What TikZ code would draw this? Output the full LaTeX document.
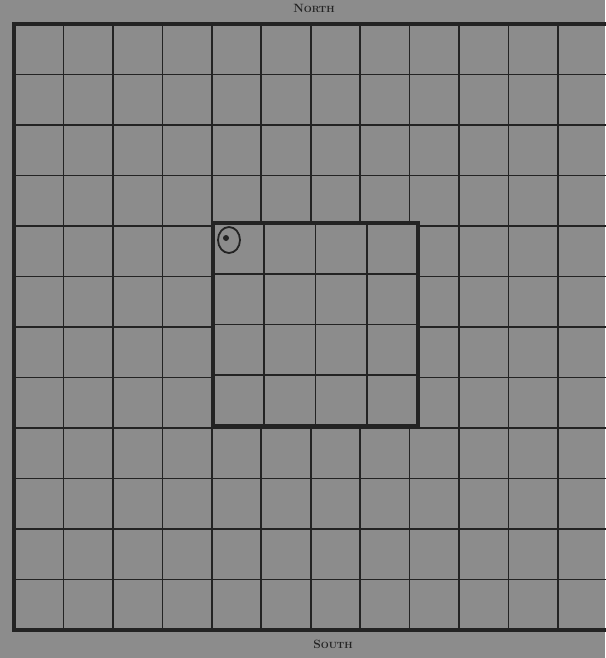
\documentclass[tikz,border=0pt]{standalone}
\definecolor{paper}{RGB}{140,140,140}
\definecolor{ink}{RGB}{35,35,35}
\tikzset{
  gridline/.style={draw=ink, line width=1.7pt},
  frameline/.style={draw=ink, line width=3.2pt},
  label/.style={font=\fontsize{12}{14}\selectfont\bfseries, text=ink, inner sep=0pt},
}
\newcommand{\smallcaps}[1]{{\fontsize{9}{11}\selectfont #1}}
\begin{document}
\begin{tikzpicture}[x=1pt,y=-1pt]
\fill[paper] (0,0) rectangle (605,658);
\useasboundingbox (0,0) rectangle (605,658);
% outer grid
\foreach \i in {1,...,11}
  \draw[gridline] ({14+\i*49.45},24) -- ({14+\i*49.45},630);
\foreach \j in {1,...,11}
  \draw[gridline] (14,{24+\j*50.5}) -- (610,{24+\j*50.5});
\draw[frameline] (610,24) -- (14,24) -- (14,630) -- (610,630);
% inner square
\fill[paper] (213,223) rectangle (418,426);
\foreach \i in {1,2,3}
  \draw[gridline] ({213+\i*51.25},223) -- ({213+\i*51.25},426);
\foreach \j in {1,2,3}
  \draw[gridline] (213,{223+\j*50.75}) -- (418,{223+\j*50.75});
\draw[frameline] (213,223) rectangle (418,426);
% marker
\draw[ink, line width=1.8pt] (229,240) ellipse [x radius=11, y radius=13];
\fill[ink] (226,238) circle [radius=3];
% labels
\node[label] (north) at (314,8) {N\smallcaps{ORTH}};
\node[label] (south) at (333,644) {S\smallcaps{OUTH}};
\end{tikzpicture}
\end{document}
